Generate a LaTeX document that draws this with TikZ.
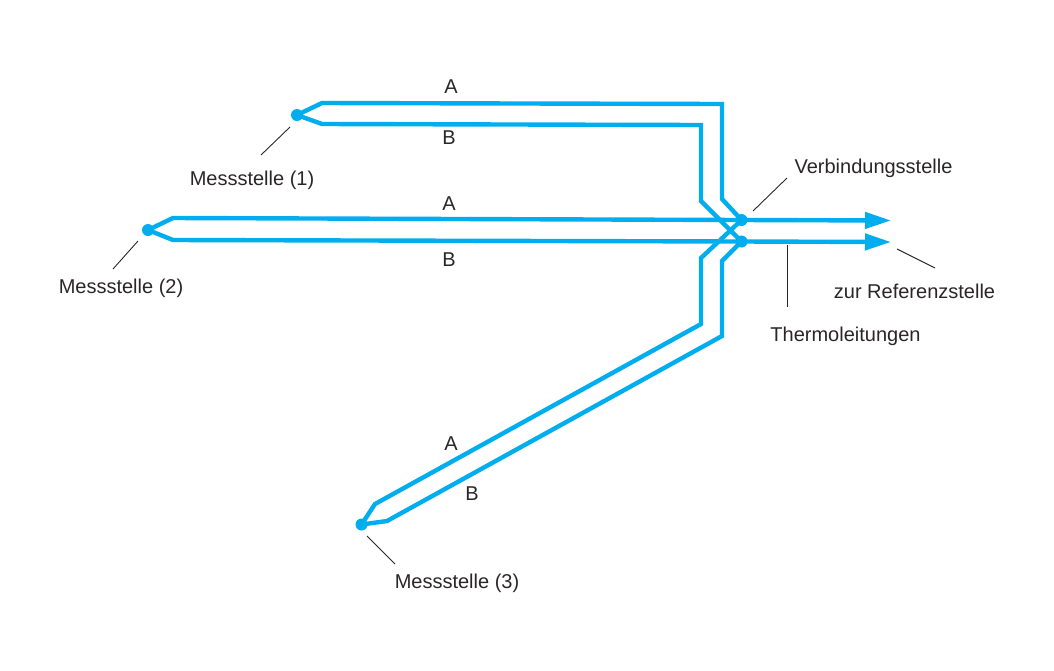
\documentclass[tikz,border=0pt]{standalone}
\usepackage{fontspec}
\setmainfont{Liberation Sans}
\usetikzlibrary{arrows.meta}
\definecolor{wire}{HTML}{00AEEF}
\definecolor{ink}{HTML}{2A2627}
\tikzset{
thermo/.style={wire,line width=2.2pt,line join=miter},
tip/.style={thermo,-{Triangle[length=13pt,width=8pt]},shorten >=-0.5pt},
junction/.style={circle,fill=wire,inner sep=0pt,minimum size=6pt},
leader/.style={ink,line width=0.45pt},
lab/.style={text=ink,font=\fontsize{10}{12}\selectfont,inner sep=0pt}
}
\begin{document}
\begin{tikzpicture}[x=0.5pt,y=-0.5pt]
\useasboundingbox (0,0) rectangle (1054,670);

\node [junction] (m1) at (297,115) {};
\node [junction] (m2) at (148,230) {};
\node [junction] (m3) at (361.5,524.5) {};
\node [junction] (va) at (741.5,220) {};
\node [junction] (vb) at (741.5,241.5) {};
\coordinate (enda) at (890,220.5);
\coordinate (endb) at (890,242);

% Messstelle 1
\draw [thermo] (m1.center) -- (322,103) -- (722,104) -- (722,199) -- (va.center);
\draw [thermo] (m1.center) -- (322,124) -- (701,125) -- (701,201) -- (vb.center);

% Messstelle 2
\draw [thermo] (m2.center) -- (173,218) -- (va.center);
\draw [thermo] (m2.center) -- (173,240) -- (vb.center);
\draw [tip] (va.center) -- (enda);
\draw [tip] (vb.center) -- (endb);

% Messstelle 3
\draw [thermo] (m3.center) -- (375,504) -- (701,324) -- (701,258) -- (va.center);
\draw [thermo] (m3.center) -- (387,521) -- (722,336) -- (722,261) -- (vb.center);

\node [lab] (a1) at (451,86.5) {A};
\node [lab] (b1) at (449,137.5) {B};
\node [lab] (a2) at (449,203.5) {A};
\node [lab] (b2) at (449,259.5) {B};
\node [lab] (a3) at (451,443.5) {A};
\node [lab] (b3) at (472,493.5) {B};

\node [lab] (t1) at (252,180) {Messstelle (1)};
\node [lab] (t2) at (121,288) {Messstelle (2)};
\node [lab] (t3) at (457,583) {Messstelle (3)};
\node [lab] (tv) at (873.5,168) {Verbindungsstelle};
\node [lab] (tr) at (914.5,291.5) {zur Referenzstelle};
\node [lab] (tt) at (845.5,336) {Thermoleitungen};

\draw [leader] (290,127) -- (261,155);
\draw [leader] (138,241) -- (113,269);
\draw [leader] (367,536) -- (395,564);
\draw [leader] (787,178) -- (753,211);
\draw [leader] (897,249) -- (935,268);
\draw [leader] (787,245) -- (787,307);
\end{tikzpicture}
\end{document}
